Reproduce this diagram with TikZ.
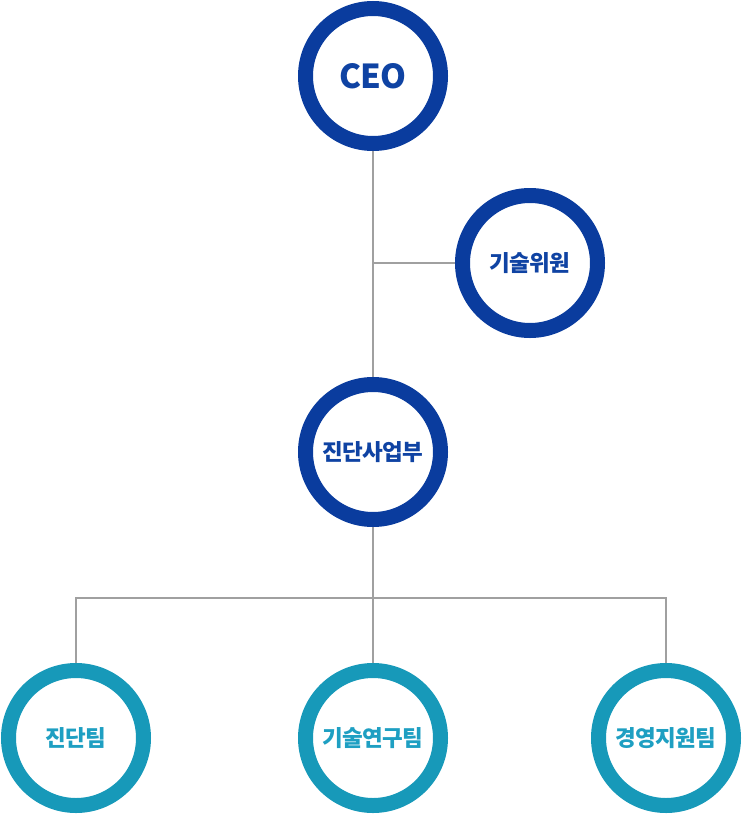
\documentclass[tikz,border=0pt]{standalone}
\usepackage{fontspec}
\setmainfont{Noto Sans CJK KR}[LetterSpace=-2.5]
\usepackage{tikz}
\usetikzlibrary{positioning}
\definecolor{navyring}{HTML}{0A3C9E}
\definecolor{navytext}{HTML}{0F43A3}
\definecolor{tealring}{HTML}{1799B9}
\definecolor{tealtext}{HTML}{1E9FC2}
\definecolor{linegray}{HTML}{A0A0A0}

\begin{document}
\begin{tikzpicture}[x=1pt, y=-1pt,
    ring/.style={circle, draw, line width=15pt, minimum size=135pt, inner sep=0pt,
      font=\fontsize{22.5}{26}\selectfont\bfseries},
    toprole/.style={ring, draw=navyring, text=navytext},
    team/.style={ring, draw=tealring, text=tealtext},
    wire/.style={draw=linegray, line width=1.6pt}]
    \useasboundingbox (0,0) rectangle (742,814);
    \node [toprole, font=\fontsize{33}{36}\selectfont\bfseries] (ceo) at (373,76) {CEO};
    \node [toprole] (adviser) at (530,263) {기술위원};
    \node [toprole] (dept) at (373,452) {진단사업부};
    \node [team] (diag) at (76,738) {진단팀};
    \node [team] (lab) at (373,738) {기술연구팀};
    \node [team] (admin) at (666,738) {경영지원팀};
    \coordinate (split) at (373,598);
    \draw [wire] (ceo.south) -- (dept.north);
    \draw [wire] (ceo.south |- adviser.west) -- (adviser.west);
    \draw [wire] (dept.south) -- (lab.north);
    \draw [wire] (diag.north) |- (split) -| (admin.north);
\end{tikzpicture}
\end{document}
